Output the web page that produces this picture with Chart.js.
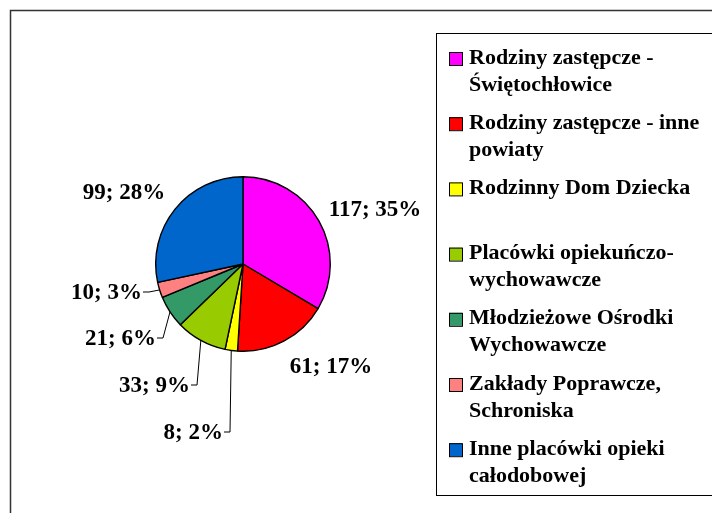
<!DOCTYPE html>
<html>
<head>
<meta charset="utf-8">
<script src="https://cdn.jsdelivr.net/npm/chart.js@4.4.1/dist/chart.umd.min.js"></script>
<style>
  html, body { margin: 0; padding: 0; background: #fff; }
  canvas { display: block; }
</style>
</head>
<body>
<canvas id="pieChart" width="712" height="513"></canvas>
<script>
// --- data ---
const categories = [
    ['Rodziny zastępcze -', 'Świętochłowice'],
    ['Rodziny zastępcze - inne', 'powiaty'],
    ['Rodzinny Dom Dziecka'],
    ['Placówki opiekuńczo-', 'wychowawcze'],
    ['Młodzieżowe Ośrodki', 'Wychowawcze'],
    ['Zakłady Poprawcze,', 'Schroniska'],
    ['Inne placówki opieki', 'całodobowej'],
];
const values       = [117, 61, 8, 33, 21, 10, 99];
const percentTexts = ['35%', '17%', '2%', '9%', '6%', '3%', '28%'];
const sliceColors  = ['#FF00FF', '#FF0000', '#FFFF00', '#99CC00', '#339966', '#FF8080', '#0066CC'];

// label placement relative to pie centre (leader = elbow point, text sits left of it)
const labelOffsets = [[132, -54], [88, 103], [-13, 168], [-46, 121], [-80, 74], [-94, 28], [-119, -71]];
const labelLeader  = [false, false, true, true, true, true, false];

const LABEL_FONT  = 'bold 23px "Liberation Serif", "Times New Roman", serif';
const LEGEND_FONT = 'bold 22px "Liberation Serif", "Times New Roman", serif';

const framePlugin = {
    id: 'frame',
    beforeDraw(chart) {
        const ctx = chart.ctx;
        ctx.save();
        ctx.fillStyle = '#fff';
        ctx.fillRect(0, 0, chart.width, chart.height);
        ctx.strokeStyle = '#333';
        ctx.lineWidth = 1.5;
        ctx.strokeRect(10.5, 10.5, chart.width + 20, chart.height + 20);
        ctx.restore();
    },
};

const pieLabelsPlugin = {
    id: 'pieLabels',
    afterDatasetsDraw(chart) {
        const ctx  = chart.ctx;
        const meta = chart.getDatasetMeta(0);
        ctx.save();
        ctx.font = LABEL_FONT;
        ctx.fillStyle = '#000';
        ctx.strokeStyle = '#000';
        ctx.lineWidth = 1;
        meta.data.forEach((arc, i) => {
            const { x, y, startAngle, endAngle, outerRadius } = arc.getProps(['x', 'y', 'startAngle', 'endAngle', 'outerRadius'], true);
            const mid  = (startAngle + endAngle) / 2;
            const text = values[i] + '; ' + percentTexts[i];
            const [dx, dy] = labelOffsets[i];
            if (labelLeader[i]) {
                const ex = x + Math.cos(mid) * outerRadius;
                const ey = y + Math.sin(mid) * outerRadius;
                const bx = x + dx, by = y + dy;
                ctx.beginPath();
                ctx.moveTo(ex, ey);
                ctx.lineTo(bx, by);
                ctx.lineTo(bx - 6, by);
                ctx.stroke();
                ctx.textAlign = 'right';
                ctx.textBaseline = 'middle';
                ctx.fillText(text, bx - 7, by + 1);
            } else {
                ctx.textAlign = 'center';
                ctx.textBaseline = 'middle';
                ctx.fillText(text, x + dx, y + dy);
            }
        });
        ctx.restore();
    },
};

const legendBoxPlugin = {
    id: 'legendBox',
    afterDraw(chart) {
        const ctx = chart.ctx;
        const left = 436.5, top = 33.5, bottom = 495.5;
        ctx.save();
        ctx.strokeStyle = '#000';
        ctx.lineWidth = 1;
        ctx.strokeRect(left, top, chart.width, bottom - top);
        ctx.font = LEGEND_FONT;
        ctx.textAlign = 'left';
        ctx.textBaseline = 'middle';
        categories.forEach((lines, i) => {
            const cy = 58 + i * 65.2;
            ctx.fillStyle = sliceColors[i];
            ctx.fillRect(449, cy - 6, 13, 13);
            ctx.strokeStyle = '#000';
            ctx.strokeRect(449.5, cy - 5.5, 13, 13);
            ctx.fillStyle = '#000';
            lines.forEach((line, j) => ctx.fillText(line, 469, cy + j * 27));
        });
        ctx.restore();
    },
};

new Chart(document.getElementById('pieChart').getContext('2d'), {
    type: 'pie',
    data: {
        labels: categories.map(c => c.join(' ')),
        datasets: [{
            data: values,
            backgroundColor: sliceColors,
            borderColor: '#000',
            borderWidth: 1.4,
        }],
    },
    options: {
        responsive: false,
        animation: false,
        devicePixelRatio: 1,
        layout: { padding: { left: 155, right: 381, top: 176, bottom: 161 } },
        plugins: {
            legend: { display: false },
            tooltip: { enabled: false },
        },
    },
    plugins: [framePlugin, pieLabelsPlugin, legendBoxPlugin],
});
</script>
</body>
</html>
